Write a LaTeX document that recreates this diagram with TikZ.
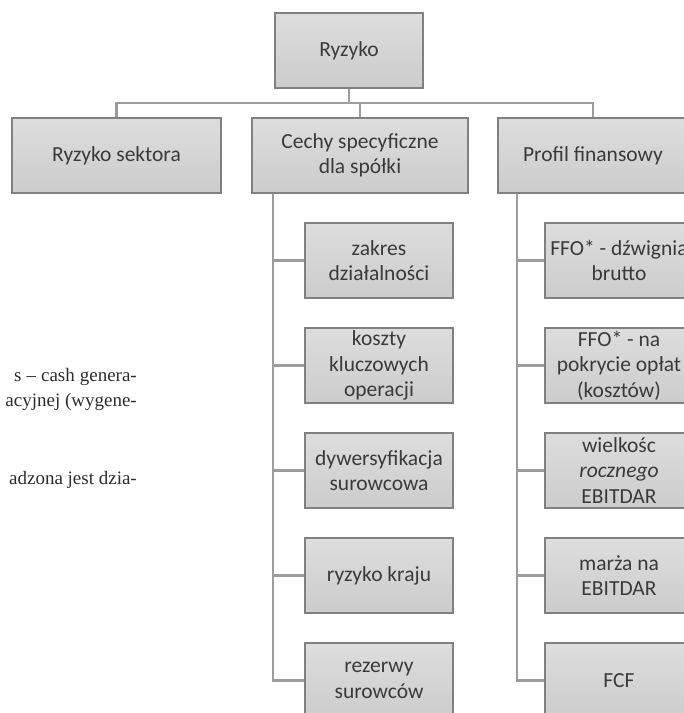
\documentclass[tikz,border=0pt]{standalone}
\usepackage{fontspec}
\setmainfont{Carlito}
\newfontfamily\bookfont[Ligatures=TeX]{Liberation Serif}
\definecolor{boxtop}{RGB}{221,221,221}
\definecolor{boxbot}{RGB}{204,204,204}
\definecolor{boxline}{RGB}{128,128,128}
\definecolor{connline}{RGB}{156,156,156}
\definecolor{boxtext}{RGB}{58,58,58}
\begin{document}
\begin{tikzpicture}[x=1pt,y=-1pt,
  box/.style={draw=boxline,line width=1.1pt,top color=boxtop,bottom color=boxbot,
    minimum height=75pt,inner sep=0pt,align=center,text=boxtext,
    font=\fontsize{21.5}{25.5}\selectfont},
  kid/.style={box,minimum width=148pt},
  conn/.style={draw=connline,line width=2.6pt},
  booktxt/.style={anchor=base east,inner sep=0pt,text={rgb,255:red,45;green,45;blue,45},
    font=\bookfont\fontsize{19}{25}\selectfont}]
\useasboundingbox (0,0) rectangle (684,713);
\clip (0,0) rectangle (684,713);
\fill[white] (0,0) rectangle (684,713);

% background page text
\node[booktxt] (t1) at (137,381) {s\hspace{5pt}–\hspace{5pt}cash\hspace{5pt}genera-};
\node[booktxt] (t2) at (137,406) {acyjnej (wygene-};
\node[booktxt] (t3) at (137,484) {adzona jest dzia-};

% boxes
\node[box,minimum width=148pt] (top) at (349,50.5) {Ryzyko};
\node[box,minimum width=209pt] (sek) at (116.5,155.5) {Ryzyko sektora};
\node[box,minimum width=216pt] (cechy) at (360,155.5) {Cechy specyficzne\\dla spółki};
\node[box,minimum width=190pt] (prof) at (593,155.5) {Profil finansowy};

\node[kid] (c1) at (379,260.5) {zakres\\działalności};
\node[kid] (c2) at (379,365.5) {koszty\\kluczowych\\operacji};
\node[kid] (c3) at (379,470.5) {dywersyfikacja\\surowcowa};
\node[kid] (c4) at (379,575.5) {ryzyko kraju};
\node[kid] (c5) at (379,680.5) {rezerwy\\surowców};

\node[kid] (p1) at (619,260.5) {FFO* - dźwignia\\brutto};
\node[kid] (p2) at (619,365.5) {FFO* - na\\pokrycie opłat\\(kosztów)};
\node[kid] (p3) at (619,470.5) {wielkośc\\\textit{rocznego}\\EBITDAR};
\node[kid] (p4) at (619,575.5) {marża na\\EBITDAR};
\node[kid] (p5) at (619,680.5) {FCF};

% connectors
\coordinate (bar) at (349,103);
\coordinate (cv) at (273,193);
\coordinate (pv) at (517,193);
\draw[conn] (top.south) -- (bar);
\draw[conn,line cap=rect] (sek.north |- bar) -- (prof.north |- bar);
\draw[conn] (sek.north |- bar) -- (sek.north);
\draw[conn] (cechy.north |- bar) -- (cechy.north);
\draw[conn] (prof.north |- bar) -- (prof.north);

\draw[conn,line join=miter] (cechy.south -| cv) -- (cv |- c5.west) -- (c5.west);
\draw[conn] (cv |- c1.west) -- (c1.west);
\draw[conn] (cv |- c2.west) -- (c2.west);
\draw[conn] (cv |- c3.west) -- (c3.west);
\draw[conn] (cv |- c4.west) -- (c4.west);

\draw[conn,line join=miter] (prof.south -| pv) -- (pv |- p5.west) -- (p5.west);
\draw[conn] (pv |- p1.west) -- (p1.west);
\draw[conn] (pv |- p2.west) -- (p2.west);
\draw[conn] (pv |- p3.west) -- (p3.west);
\draw[conn] (pv |- p4.west) -- (p4.west);
\end{tikzpicture}
\end{document}
